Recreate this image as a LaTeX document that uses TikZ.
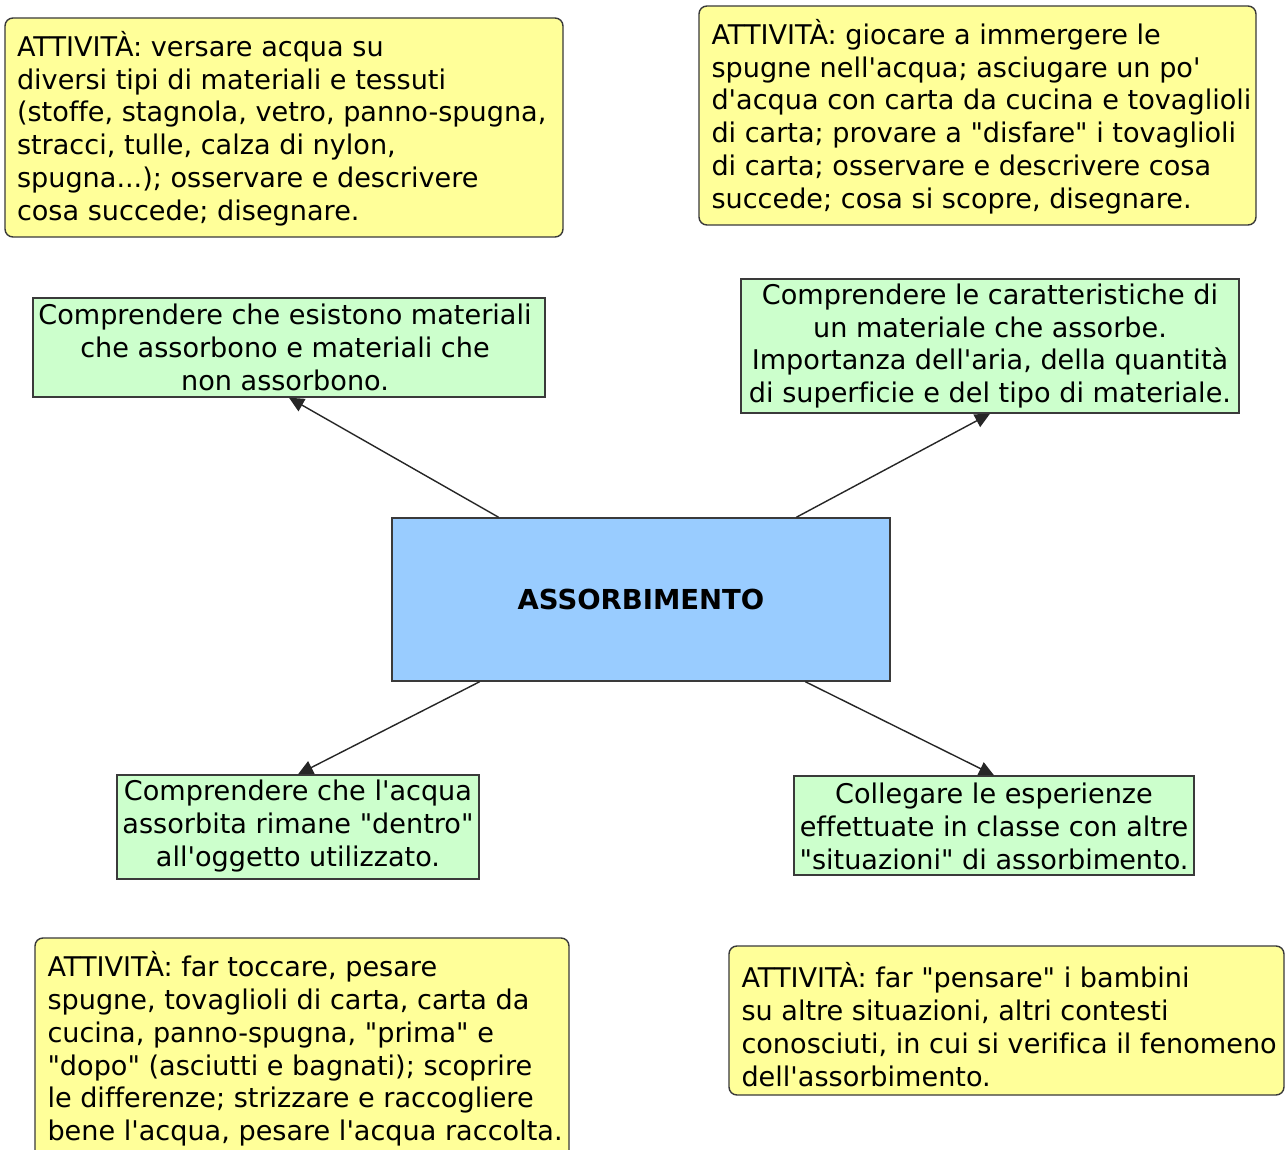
\documentclass[tikz,border=0pt]{standalone}
\usepackage{fontspec}
\setmainfont{DejaVu Sans}[Ligatures={TeXOff,CommonOff}]
\usetikzlibrary{arrows.meta,calc}
\definecolor{boxyellow}{HTML}{FFFF99}
\definecolor{boxgreen}{HTML}{CCFFCC}
\definecolor{boxblue}{HTML}{99CCFF}
\definecolor{edgegray}{HTML}{3A3A3A}
\tikzset{
  txt/.style={font=\fontsize{27.1}{32.8}\selectfont, inner sep=0pt, text=black},
  activitybox/.style={draw=edgegray, line width=1.4pt, fill=boxyellow, rounded corners=8pt, inner sep=0pt},
  goalbox/.style={draw=edgegray, line width=1.4pt, fill=boxgreen, inner sep=0pt},
  goaltext/.style={txt, align=center},
  mainbox/.style={draw=edgegray, line width=1.4pt, fill=boxblue, inner sep=0pt},
  link/.style={draw=black!85, line width=1.4pt, -{Triangle[length=15pt,width=14pt]}}
}
\begin{document}
\begin{tikzpicture}[x=1pt,y=-1pt]
\useasboundingbox (0,0) rectangle (1286,1150);
\clip (0,0) rectangle (1286,1150);
\fill[white] (0,0) rectangle (1286,1150);

% activity boxes
\node[activitybox, minimum width=558pt, minimum height=219pt] (y1) at (284,127.5) {};
\node[txt, anchor=west, align=left] (y1t) at ($(y1.west)+(12.5,1)$) {ATTIVITÀ: versare acqua su\\diversi tipi di materiali e tessuti\\(stoffe, stagnola, vetro, panno-spugna,\\stracci, tulle, calza di nylon,\\spugna...); osservare e descrivere\\cosa succede; disegnare.};

\node[activitybox, minimum width=557pt, minimum height=219pt] (y2) at (977.5,115.5) {};
\node[txt, anchor=west, align=left] (y2t) at ($(y2.west)+(13,1)$) {ATTIVITÀ: giocare a immergere le\\spugne nell'acqua; asciugare un po'\\d'acqua con carta da cucina e tovaglioli\\di carta; provare a "disfare" i tovaglioli\\di carta; osservare e descrivere cosa\\succede; cosa si scopre, disegnare.};

\node[activitybox, minimum width=534pt, minimum height=222pt] (y3) at (302,1049) {};
\node[txt, anchor=west, align=left] (y3t) at ($(y3.west)+(13,0)$) {ATTIVITÀ: far toccare, pesare\\spugne, tovaglioli di carta, carta da\\cucina, panno-spugna, "prima" e\\"dopo" (asciutti e bagnati); scoprire\\le differenze; strizzare e raccogliere\\bene l'acqua, pesare l'acqua raccolta.};

\node[activitybox, minimum width=555pt, minimum height=149pt] (y4) at (1006.5,1020.5) {};
\node[txt, anchor=west, align=left] (y4t) at ($(y4.west)+(13,4)$) {ATTIVITÀ: far "pensare" i bambini\\su altre situazioni, altri contesti\\conosciuti, in cui si verifica il fenomeno\\dell'assorbimento.};

% goal boxes
\node[goalbox, minimum width=512pt, minimum height=99pt] (g1) at (289,347.5) {};
\node[goaltext] (g1t) at ($(g1)+(-4,0)$) {Comprendere che esistono materiali\\che assorbono e materiali che\\non assorbono.};
\node[goalbox, minimum width=498pt, minimum height=134pt] (g2) at (990,346) {};
\node[goaltext] (g2t) at (g2) {Comprendere le caratteristiche di\\un materiale che assorbe.\\Importanza dell'aria, della quantità\\di superficie e del tipo di materiale.};
\node[goalbox, minimum width=362pt, minimum height=104pt] (g3) at (298,827) {};
\node[goaltext] (g3t) at ($(g3)+(0,-1)$) {Comprendere che l'acqua\\assorbita rimane "dentro"\\all'oggetto utilizzato.};
\node[goalbox, minimum width=400pt, minimum height=99pt] (g4) at (994,825.5) {};
\node[goaltext] (g4t) at ($(g4)+(0,1)$) {Collegare le esperienze\\effettuate in classe con altre\\"situazioni" di assorbimento.};

% main concept
\node[mainbox, minimum width=498pt, minimum height=163pt] (c) at (641,599.5) {};
\node[txt, font=\fontsize{27.5}{30}\selectfont\bfseries] (ct) at (c) {ASSORBIMENTO};

% connectors
\draw[link] ($(c.north west)!0.215!(c.north east)$) -- (g1.south);
\draw[link] ($(c.north west)!0.811!(c.north east)$) -- (g2.south);
\draw[link] ($(c.south west)!0.177!(c.south east)$) -- (g3.north);
\draw[link] ($(c.south west)!0.829!(c.south east)$) -- (g4.north);
\end{tikzpicture}
\end{document}
